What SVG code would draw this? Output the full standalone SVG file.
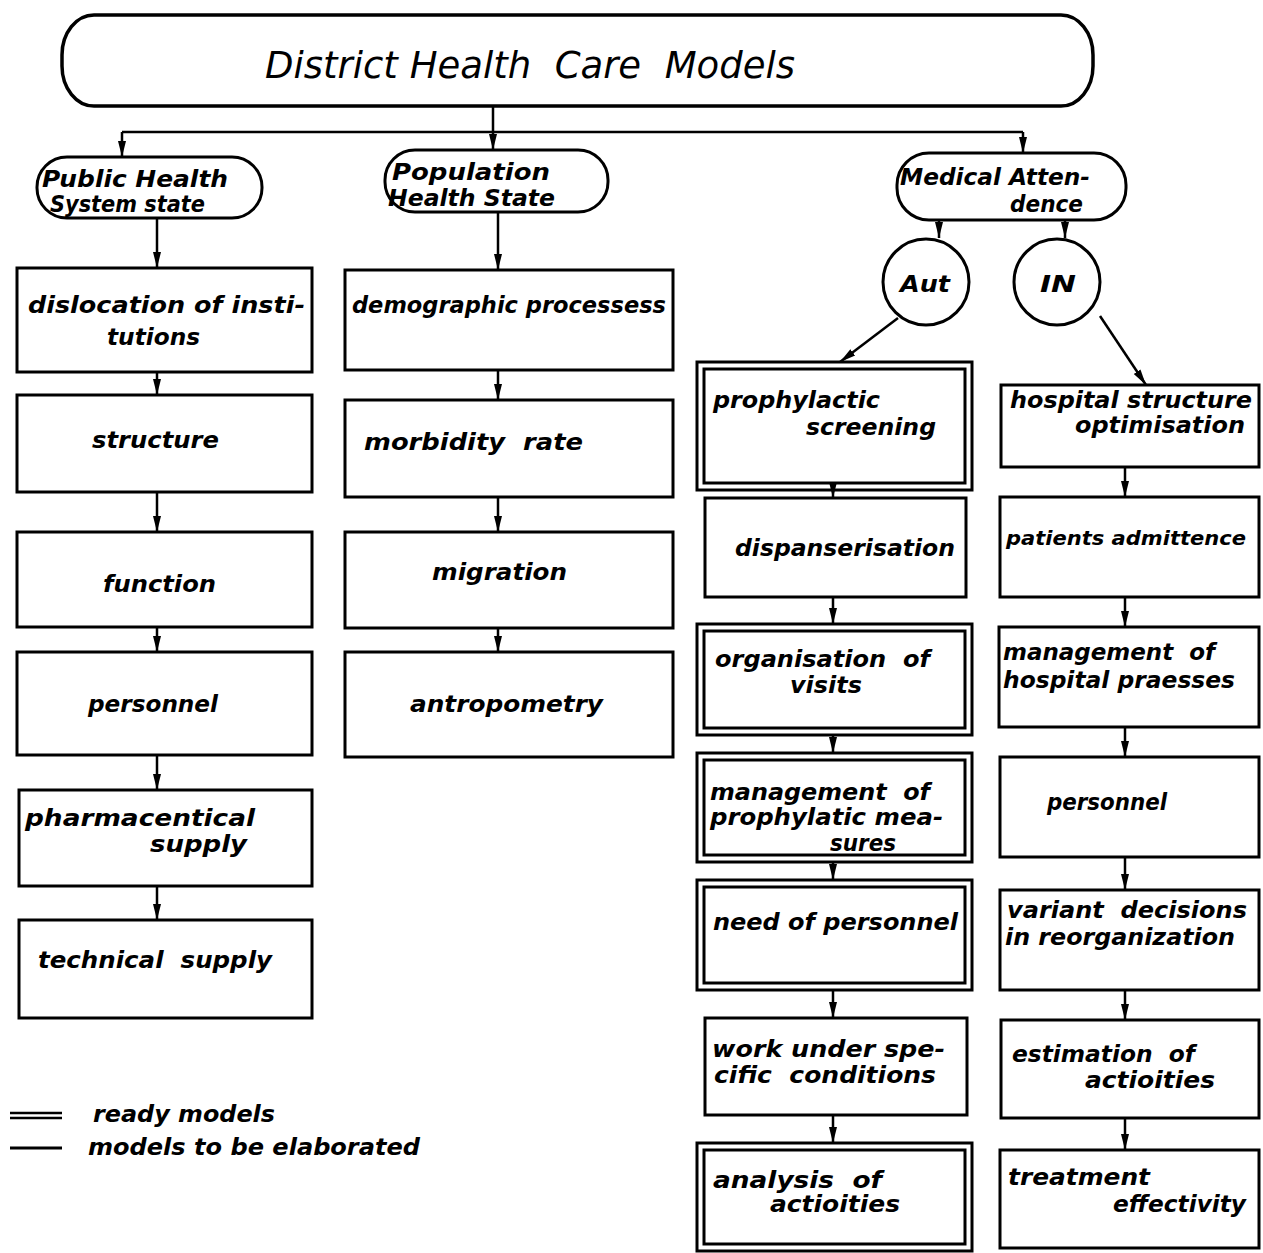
<svg xmlns="http://www.w3.org/2000/svg" width="1263" height="1253" viewBox="0 0 1263 1253">
<style>
.b{fill:none;stroke:#000;stroke-width:3}
.c{fill:none;stroke:#000;stroke-width:2.5}
.t{font-family:"DejaVu Sans",sans-serif;font-style:oblique;font-weight:bold;font-size:23px;fill:#000}
.s{font-size:20px}
.h{font-family:"DejaVu Sans",sans-serif;font-style:oblique;font-size:38px;fill:#000}
</style>
<defs>
<marker id="ar" markerUnits="userSpaceOnUse" markerWidth="16" markerHeight="10" refX="16" refY="5" orient="auto">
<path d="M0,1 L16,5 L0,9 z" fill="#000"/>
</marker>
</defs>
<rect width="1263" height="1253" fill="#fff"/>

<g id="connectors">
<path class="c" d="M493,106 V132 M122,132 H1023"/>
<path class="c" d="M122,132 V157" marker-end="url(#ar)"/>
<path class="c" d="M493,132 V150" marker-end="url(#ar)"/>
<path class="c" d="M1023,132 V153" marker-end="url(#ar)"/>
<path class="c" d="M157,218 V268" marker-end="url(#ar)"/>
<path class="c" d="M157,372 V395" marker-end="url(#ar)"/>
<path class="c" d="M157,492 V532" marker-end="url(#ar)"/>
<path class="c" d="M157,627 V652" marker-end="url(#ar)"/>
<path class="c" d="M157,755 V790" marker-end="url(#ar)"/>
<path class="c" d="M157,886 V920" marker-end="url(#ar)"/>
<path class="c" d="M498,212 V270" marker-end="url(#ar)"/>
<path class="c" d="M498,370 V400" marker-end="url(#ar)"/>
<path class="c" d="M498,497 V532" marker-end="url(#ar)"/>
<path class="c" d="M498,628 V652" marker-end="url(#ar)"/>
<path class="c" d="M939,220 V238" marker-end="url(#ar)"/>
<path class="c" d="M1065,220 V238" marker-end="url(#ar)"/>
<path class="c" d="M898,318 L840,362" marker-end="url(#ar)"/>
<path class="c" d="M1100,316 L1146,385" marker-end="url(#ar)"/>
<path class="c" d="M833,490 V498" marker-end="url(#ar)"/>
<path class="c" d="M833,597 V624" marker-end="url(#ar)"/>
<path class="c" d="M833,735 V753" marker-end="url(#ar)"/>
<path class="c" d="M833,862 V880" marker-end="url(#ar)"/>
<path class="c" d="M833,990 V1018" marker-end="url(#ar)"/>
<path class="c" d="M833,1115 V1143" marker-end="url(#ar)"/>
<path class="c" d="M1125,467 V497" marker-end="url(#ar)"/>
<path class="c" d="M1125,597 V627" marker-end="url(#ar)"/>
<path class="c" d="M1125,727 V757" marker-end="url(#ar)"/>
<path class="c" d="M1125,857 V890" marker-end="url(#ar)"/>
<path class="c" d="M1125,990 V1020" marker-end="url(#ar)"/>
<path class="c" d="M1125,1118 V1150" marker-end="url(#ar)"/>
</g>

<g id="title">
<rect x="62" y="15" width="1031" height="91" rx="32" ry="40" fill="none" stroke="#000" stroke-width="3.5"/>
<text class="h" x="265" y="78" textLength="530" lengthAdjust="spacingAndGlyphs" xml:space="preserve">District Health  Care  Models</text>
</g>

<g id="public-health">
<rect class="b" x="37" y="157" width="225" height="61" rx="30" ry="30"/>
<text class="t" x="42" y="187" textLength="186" lengthAdjust="spacingAndGlyphs">Public Health</text>
<text class="t" x="50" y="212" textLength="155" lengthAdjust="spacingAndGlyphs">System state</text>
</g>
<g id="population-health">
<rect class="b" x="385" y="150" width="223" height="62" rx="30" ry="30"/>
<text class="t" x="392" y="180" textLength="158" lengthAdjust="spacingAndGlyphs">Population</text>
<text class="t" x="388" y="206" textLength="167" lengthAdjust="spacingAndGlyphs">Health State</text>
</g>
<g id="medical-attendence">
<rect class="b" x="897" y="153" width="229" height="67" rx="32" ry="32"/>
<text class="t" x="900" y="185" textLength="190" lengthAdjust="spacingAndGlyphs">Medical Atten-</text>
<text class="t" x="1010" y="212" textLength="73" lengthAdjust="spacingAndGlyphs">dence</text>
</g>
<g id="aut">
<circle class="b" cx="926" cy="282" r="43"/>
<text class="t" x="900" y="292" textLength="50" lengthAdjust="spacingAndGlyphs">Aut</text>
</g>
<g id="in">
<circle class="b" cx="1057" cy="282" r="43"/>
<text class="t" x="1040" y="292" textLength="36" lengthAdjust="spacingAndGlyphs">IN</text>
</g>

<g id="dislocation">
<rect class="b" x="17" y="268" width="295" height="104"/>
<text class="t" x="28" y="313" textLength="277" lengthAdjust="spacingAndGlyphs">dislocation of insti-</text>
<text class="t" x="107" y="345" textLength="93" lengthAdjust="spacingAndGlyphs">tutions</text>
</g>
<g id="structure">
<rect class="b" x="17" y="395" width="295" height="97"/>
<text class="t" x="92" y="448" textLength="127" lengthAdjust="spacingAndGlyphs">structure</text>
</g>
<g id="function">
<rect class="b" x="17" y="532" width="295" height="95"/>
<text class="t" x="103" y="592" textLength="113" lengthAdjust="spacingAndGlyphs">function</text>
</g>
<g id="personnel-1">
<rect class="b" x="17" y="652" width="295" height="103"/>
<text class="t" x="88" y="712" textLength="130" lengthAdjust="spacingAndGlyphs">personnel</text>
</g>
<g id="pharmaceutical">
<rect class="b" x="19" y="790" width="293" height="96"/>
<text class="t" x="25" y="826" textLength="230" lengthAdjust="spacingAndGlyphs">pharmacentical</text>
<text class="t" x="150" y="852" textLength="97" lengthAdjust="spacingAndGlyphs">supply</text>
</g>
<g id="technical">
<rect class="b" x="19" y="920" width="293" height="98"/>
<text class="t" x="38" y="968" textLength="234" lengthAdjust="spacingAndGlyphs" xml:space="preserve">technical  supply</text>
</g>

<g id="demographic">
<rect class="b" x="345" y="270" width="328" height="100"/>
<text class="t" x="352" y="313" textLength="314" lengthAdjust="spacingAndGlyphs">demographic processess</text>
</g>
<g id="morbidity">
<rect class="b" x="345" y="400" width="328" height="97"/>
<text class="t" x="364" y="450" textLength="219" lengthAdjust="spacingAndGlyphs" xml:space="preserve">morbidity  rate</text>
</g>
<g id="migration">
<rect class="b" x="345" y="532" width="328" height="96"/>
<text class="t" x="432" y="580" textLength="135" lengthAdjust="spacingAndGlyphs">migration</text>
</g>
<g id="antropometry">
<rect class="b" x="345" y="652" width="328" height="105"/>
<text class="t" x="410" y="712" textLength="193" lengthAdjust="spacingAndGlyphs">antropometry</text>
</g>

<g id="prophylactic">
<rect class="b" x="697" y="362" width="275" height="128"/>
<rect class="b" x="704" y="369" width="261" height="114"/>
<text class="t" x="713" y="408" textLength="167" lengthAdjust="spacingAndGlyphs">prophylactic</text>
<text class="t" x="806" y="435" textLength="130" lengthAdjust="spacingAndGlyphs">screening</text>
</g>
<g id="dispanserisation">
<rect class="b" x="705" y="498" width="261" height="99"/>
<text class="t" x="735" y="556" textLength="220" lengthAdjust="spacingAndGlyphs">dispanserisation</text>
</g>
<g id="organisation">
<rect class="b" x="697" y="624" width="275" height="111"/>
<rect class="b" x="704" y="631" width="261" height="97"/>
<text class="t" x="715" y="667" textLength="215" lengthAdjust="spacingAndGlyphs" xml:space="preserve">organisation  of</text>
<text class="t" x="790" y="693" textLength="72" lengthAdjust="spacingAndGlyphs">visits</text>
</g>
<g id="management-prophylatic">
<rect class="b" x="697" y="753" width="275" height="109"/>
<rect class="b" x="704" y="760" width="261" height="95"/>
<text class="t" x="710" y="800" textLength="220" lengthAdjust="spacingAndGlyphs" xml:space="preserve">management  of</text>
<text class="t" x="710" y="825" textLength="233" lengthAdjust="spacingAndGlyphs">prophylatic mea-</text>
<text class="t" x="830" y="851" textLength="66" lengthAdjust="spacingAndGlyphs">sures</text>
</g>
<g id="need-personnel">
<rect class="b" x="697" y="880" width="275" height="110"/>
<rect class="b" x="704" y="887" width="261" height="96"/>
<text class="t" x="713" y="930" textLength="245" lengthAdjust="spacingAndGlyphs">need of personnel</text>
</g>
<g id="work-conditions">
<rect class="b" x="705" y="1018" width="262" height="97"/>
<text class="t" x="712" y="1057" textLength="233" lengthAdjust="spacingAndGlyphs">work under spe-</text>
<text class="t" x="714" y="1083" textLength="222" lengthAdjust="spacingAndGlyphs" xml:space="preserve">cific  conditions</text>
</g>
<g id="analysis">
<rect class="b" x="697" y="1143" width="275" height="108"/>
<rect class="b" x="704" y="1150" width="261" height="94"/>
<text class="t" x="713" y="1188" textLength="169" lengthAdjust="spacingAndGlyphs" xml:space="preserve">analysis  of</text>
<text class="t" x="770" y="1212" textLength="130" lengthAdjust="spacingAndGlyphs">actioities</text>
</g>

<g id="hospital-structure">
<rect class="b" x="1001" y="385" width="258" height="82"/>
<text class="t" x="1010" y="408" textLength="242" lengthAdjust="spacingAndGlyphs">hospital structure</text>
<text class="t" x="1075" y="433" textLength="170" lengthAdjust="spacingAndGlyphs">optimisation</text>
</g>
<g id="patients-admittence">
<rect class="b" x="1000" y="497" width="259" height="100"/>
<text class="t s" x="1006" y="545" textLength="240" lengthAdjust="spacingAndGlyphs">patients admittence</text>
</g>
<g id="management-hospital">
<rect class="b" x="999" y="627" width="260" height="100"/>
<text class="t" x="1003" y="660" textLength="212" lengthAdjust="spacingAndGlyphs" xml:space="preserve">management  of</text>
<text class="t" x="1003" y="688" textLength="232" lengthAdjust="spacingAndGlyphs">hospital praesses</text>
</g>
<g id="personnel-2">
<rect class="b" x="1000" y="757" width="259" height="100"/>
<text class="t" x="1047" y="810" textLength="120" lengthAdjust="spacingAndGlyphs">personnel</text>
</g>
<g id="variant-decisions">
<rect class="b" x="1000" y="890" width="259" height="100"/>
<text class="t" x="1007" y="918" textLength="240" lengthAdjust="spacingAndGlyphs" xml:space="preserve">variant  decisions</text>
<text class="t" x="1005" y="945" textLength="230" lengthAdjust="spacingAndGlyphs">in reorganization</text>
</g>
<g id="estimation">
<rect class="b" x="1001" y="1020" width="258" height="98"/>
<text class="t" x="1012" y="1062" textLength="183" lengthAdjust="spacingAndGlyphs" xml:space="preserve">estimation  of</text>
<text class="t" x="1085" y="1088" textLength="130" lengthAdjust="spacingAndGlyphs">actioities</text>
</g>
<g id="treatment">
<rect class="b" x="1000" y="1150" width="259" height="98"/>
<text class="t" x="1008" y="1185" textLength="142" lengthAdjust="spacingAndGlyphs">treatment</text>
<text class="t" x="1113" y="1212" textLength="133" lengthAdjust="spacingAndGlyphs">effectivity</text>
</g>

<g id="legend">
<path d="M10,1113 H62 M10,1118 H62" fill="none" stroke="#000" stroke-width="2.5"/>
<text class="t" x="93" y="1122" textLength="182" lengthAdjust="spacingAndGlyphs">ready models</text>
<path d="M10,1148 H62" fill="none" stroke="#000" stroke-width="3"/>
<text class="t" x="88" y="1155" textLength="332" lengthAdjust="spacingAndGlyphs">models to be elaborated</text>
</g>
</svg>
